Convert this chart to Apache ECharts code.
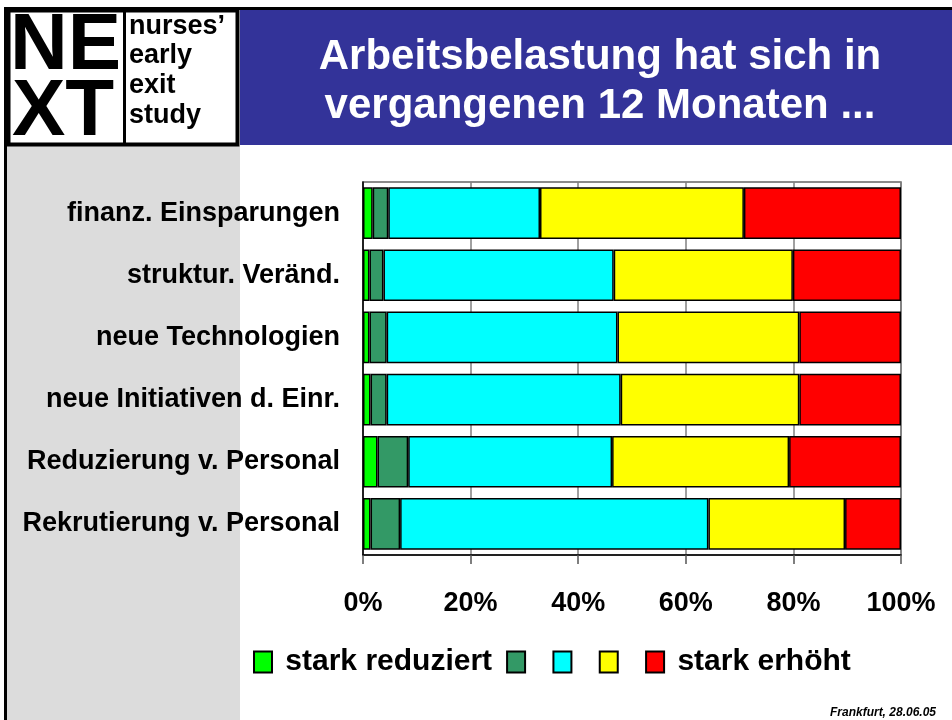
<!DOCTYPE html>
<html>
<head>
<meta charset="utf-8">
<script src="https://cdn.jsdelivr.net/npm/echarts@6/dist/echarts.min.js"></script>
<style>
  body { margin: 0; background: #fff; }
  #chart { width: 952px; height: 720px; }
</style>
</head>
<body>
<div id="chart"></div>
<script>
let categories = [
  "finanz. Einsparungen",
  "struktur. Veränd.",
  "neue Technologien",
  "neue Initiativen d. Einr.",
  "Reduzierung v. Personal",
  "Rekrutierung v. Personal",
];
let seriesNames = ["stark reduziert", "reduziert", "unverändert", "erhöht", "stark erhöht"];
let starkReduziert = [1.8, 1.2, 1.2, 1.4, 2.7, 1.4];
let reduziert = [2.9, 2.6, 3.2, 3.0, 5.7, 5.5];
let unveraendert = [28.2, 42.8, 42.9, 43.5, 37.9, 57.3];
let erhoeht = [37.9, 33.3, 33.8, 33.2, 32.9, 25.4];
let starkErhoeht = [29.2, 20.1, 18.9, 18.9, 20.8, 10.4];
let values = [starkReduziert, reduziert, unveraendert, erhoeht, starkErhoeht];
let colors = ["#00ff00", "#339966", "#00ffff", "#ffff00", "#ff0000"];

let font = "'Liberation Sans', Arial, sans-serif";
let chart = echarts.init(document.getElementById("chart"));

let option = {
  animation: false,
  graphic: [
    // slide frame
    { type: "rect", z: -10, shape: { x: 7, y: 146, width: 233, height: 574 }, style: { fill: "#dcdcdc" } },
    { type: "rect", z: -9, shape: { x: 240, y: 9, width: 712, height: 136 }, style: { fill: "#333399" } },
    { type: "rect", z: -9, shape: { x: 4, y: 7, width: 948, height: 3 }, style: { fill: "#000" } },
    { type: "rect", z: -9, shape: { x: 4, y: 7, width: 3, height: 713 }, style: { fill: "#000" } },
    { type: "rect", z: -8, shape: { x: 8.5, y: 10.5, width: 229, height: 134 }, style: { fill: "#fff", stroke: "#000", lineWidth: 4 } },
    { type: "line", z: -7, shape: { x1: 124.5, y1: 10, x2: 124.5, y2: 145 }, style: { stroke: "#000", lineWidth: 3 } },
    // logo
    { type: "text", style: { text: "NE", x: 10, y: 47, font: "bold 80px " + font, fill: "#000", verticalAlign: "middle" } },
    { type: "text", style: { text: "XT", x: 12, y: 113, font: "bold 80px " + font, fill: "#000", verticalAlign: "middle" } },
    { type: "text", style: { text: "nurses’", x: 129, y: 27, font: "bold 27px " + font, fill: "#000", verticalAlign: "middle" } },
    { type: "text", style: { text: "early", x: 129, y: 56, font: "bold 27px " + font, fill: "#000", verticalAlign: "middle" } },
    { type: "text", style: { text: "exit", x: 129, y: 86, font: "bold 27px " + font, fill: "#000", verticalAlign: "middle" } },
    { type: "text", style: { text: "study", x: 129, y: 116, font: "bold 27px " + font, fill: "#000", verticalAlign: "middle" } },
    // title
    { type: "text", style: { text: "Arbeitsbelastung hat sich in", x: 600, y: 57, font: "bold 42px " + font, fill: "#fff", align: "center", verticalAlign: "middle" } },
    { type: "text", style: { text: "vergangenen 12 Monaten ...", x: 600, y: 106, font: "bold 42px " + font, fill: "#fff", align: "center", verticalAlign: "middle" } },
    // footer
    { type: "text", style: { text: "Frankfurt, 28.06.05", x: 936, y: 713, font: "italic bold 12px " + font, fill: "#000", align: "right", verticalAlign: "middle" } },
  ],
  grid: {
    left: 363,
    right: 51,
    top: 182,
    bottom: 165,
    show: true,
    borderColor: "#666",
    borderWidth: 1.5,
  },
  legend: {
    left: 253,
    top: 647,
    padding: 0,
    itemWidth: 18,
    itemHeight: 21,
    itemGap: 14,
    icon: "rect",
    data: seriesNames,
    // only the two outer categories carry a label
    formatter: (name) => (name.indexOf("stark") === 0 ? " " + name : " "),
    textStyle: {
      fontSize: 30,
      fontWeight: "bold",
      fontFamily: font,
      color: "#000",
    },
  },
  xAxis: {
    type: "value",
    min: 0,
    max: 100,
    interval: 20,
    axisLine: { show: true, lineStyle: { color: "#000", width: 1.5 } },
    axisTick: { show: true, length: 9, lineStyle: { color: "#555", width: 1.5 } },
    splitLine: { show: true, lineStyle: { color: "#808080", width: 1.5 } },
    axisLabel: {
      formatter: "{value}%",
      margin: 35,
      fontSize: 27,
      fontWeight: "bold",
      fontFamily: font,
      color: "#000",
    },
  },
  yAxis: {
    type: "category",
    inverse: true,
    data: categories,
    axisTick: { show: false },
    axisLine: { lineStyle: { color: "#000", width: 1.5 } },
    axisLabel: {
      margin: 23,
      fontSize: 27,
      fontWeight: "bold",
      fontFamily: font,
      color: "#000",
    },
  },
  series: seriesNames.map((name, i) => ({
    name: name,
    type: "bar",
    stack: "total",
    barCategoryGap: "17%",
    data: values[i],
    itemStyle: { color: colors[i], borderColor: "#000", borderWidth: 1.5 },
  })),
};
chart.setOption(option);
</script>
</body>
</html>
